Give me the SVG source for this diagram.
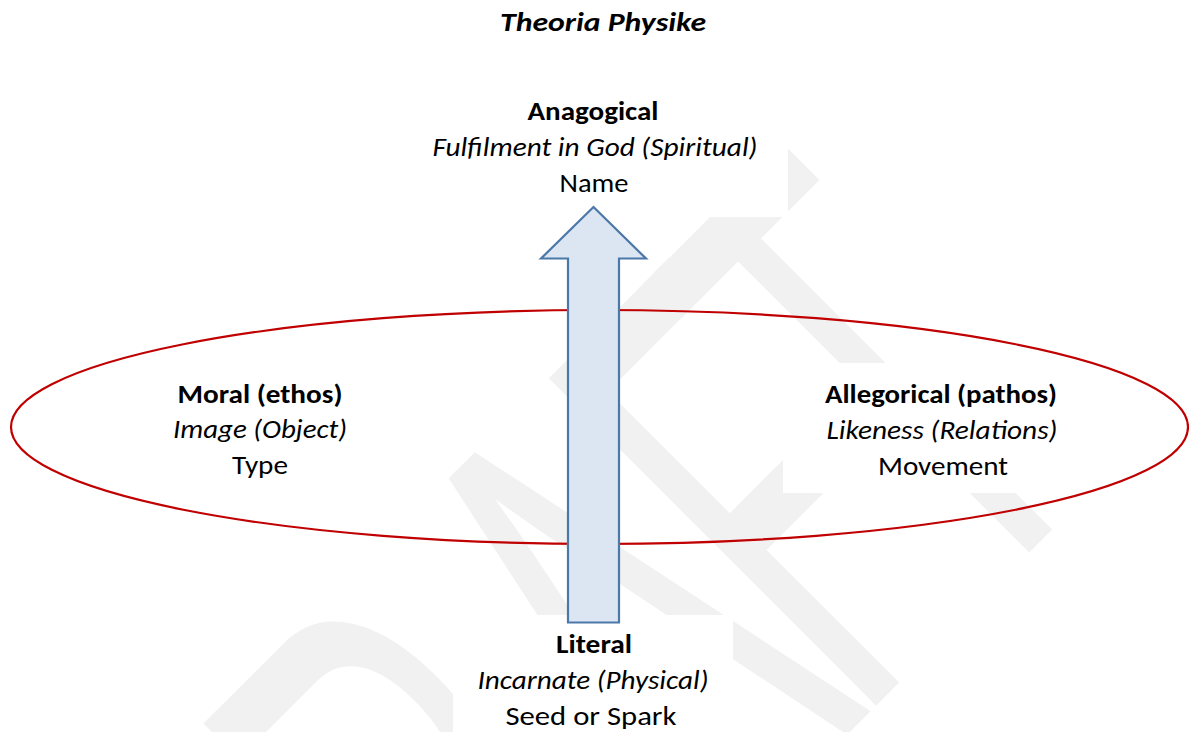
<svg xmlns="http://www.w3.org/2000/svg" width="1189" height="732" viewBox="0 0 1189 732">
<style>
.t{font-family:Carlito,Lato,'Liberation Sans',sans-serif;font-size:26px;fill:#000;text-anchor:middle}
.b{font-weight:bold}
.i{font-style:italic}
.box{fill:#fff}
.wm{font-family:'Liberation Sans',Arial,sans-serif;font-size:100px;fill:#f1f1f1}
</style>
<rect width="1189" height="732" fill="#fff"/>
<g id="watermark" transform="matrix(2.475 -2.475 4.759 4.759 893.9 687.9)">
<text class="wm" x="-227 -154.9 -75.9 -15.4 28.8" y="0">DRAFT</text>
</g>
<g id="text-backgrounds">
<rect class="box" x="400" y="90" width="388" height="127"/>
<rect class="box" x="97" y="363" width="326" height="130"/>
<rect class="box" x="783" y="363" width="320" height="130"/>
<rect class="box" x="453" y="615" width="280" height="117"/>
</g>
<g id="ellipse">
<ellipse cx="599.5" cy="427" rx="588.5" ry="117" fill="none" stroke="#c00000" stroke-width="2.2"/>
</g>
<g id="connectors">
<path d="M593.5,207 L646,258.5 L619,258.5 L619,622.5 L568,622.5 L568,258.5 L541,258.5 Z" fill="#dce6f2" stroke="#4a78a8" stroke-width="2.2" stroke-linejoin="miter"/>
</g>
<g id="title">
<text class="t b i" x="603" y="31" textLength="206" lengthAdjust="spacingAndGlyphs">Theoria Physike</text>
</g>
<g id="anagogical">
<text class="t b" x="593" y="120" textLength="131" lengthAdjust="spacingAndGlyphs">Anagogical</text>
<text class="t i" x="595" y="156" textLength="325" lengthAdjust="spacingAndGlyphs">Fulfilment in God (Spiritual)</text>
<text class="t" x="594" y="192" textLength="69" lengthAdjust="spacingAndGlyphs">Name</text>
</g>
<g id="moral">
<text class="t b" x="260" y="403" textLength="165" lengthAdjust="spacingAndGlyphs">Moral (ethos)</text>
<text class="t i" x="260" y="438" textLength="174" lengthAdjust="spacingAndGlyphs">Image (Object)</text>
<text class="t" x="260" y="474" textLength="56" lengthAdjust="spacingAndGlyphs">Type</text>
</g>
<g id="allegorical">
<text class="t b" x="941" y="403" textLength="232" lengthAdjust="spacingAndGlyphs">Allegorical (pathos)</text>
<text class="t i" x="942" y="439" textLength="231" lengthAdjust="spacingAndGlyphs">Likeness (Relations)</text>
<text class="t" x="943" y="475" textLength="130" lengthAdjust="spacingAndGlyphs">Movement</text>
</g>
<g id="literal">
<text class="t b" x="594" y="653" textLength="76" lengthAdjust="spacingAndGlyphs">Literal</text>
<text class="t i" x="593" y="689" textLength="231" lengthAdjust="spacingAndGlyphs">Incarnate (Physical)</text>
<text class="t" x="591" y="725" textLength="171" lengthAdjust="spacingAndGlyphs">Seed or Spark</text>
</g>
</svg>
